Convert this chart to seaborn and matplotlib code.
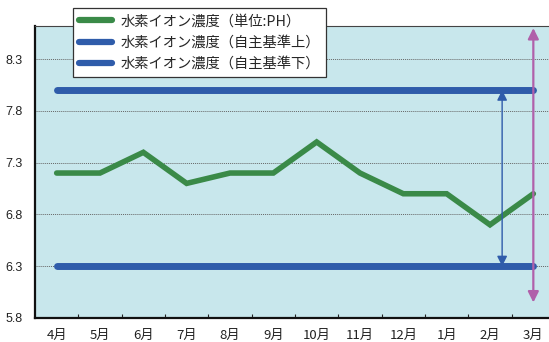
import matplotlib
matplotlib.use("Agg")
import matplotlib.pyplot as plt
from matplotlib.ticker import FixedLocator
import seaborn as sns
import pandas as pd
import numpy as np

# Monthly pH readings and the self-imposed upper / lower limits
months = ["4月", "5月", "6月", "7月", "8月", "9月", "10月", "11月", "12月", "1月", "2月", "3月"]
ph_values = [7.2, 7.2, 7.4, 7.1, 7.2, 7.2, 7.5, 7.2, 7.0, 7.0, 6.7, 7.0]
upper_limit = [8.0] * 12
lower_limit = [6.3] * 12
y_ticks = [5.8, 6.3, 6.8, 7.3, 7.8, 8.3]

labels = ["水素イオン濃度（単位:PH）", "水素イオン濃度（自主基準上）", "水素イオン濃度（自主基準下）"]

sns.set_theme(style="white")
plt.rcParams["font.family"] = ["Noto Sans CJK JP", "DejaVu Sans"]

GREEN = "#3a8a48"
BLUE = "#2f5caa"
PINK = "#b060aa"
BG = "#c8e7ec"

W, H = 549, 342
fig = plt.figure(figsize=(W / 100, H / 100), dpi=100)
left, right, top, bottom = 35, 555, 26, 318
ax = fig.add_axes([left / W, 1 - bottom / H, (right - left) / W, (bottom - top) / H])
ax.set_facecolor(BG)

df = pd.DataFrame({"x": np.arange(len(months)), "ph": ph_values,
                   "up": upper_limit, "low": lower_limit})

sns.lineplot(data=df, x="x", y="up", ax=ax, color=BLUE, linewidth=5,
             solid_capstyle="round", label=labels[1], zorder=3)
sns.lineplot(data=df, x="x", y="low", ax=ax, color=BLUE, linewidth=5,
             solid_capstyle="round", label=labels[2], zorder=3)
sns.lineplot(data=df, x="x", y="ph", ax=ax, color=GREEN, linewidth=4,
             solid_joinstyle="miter", label=labels[0], zorder=4)

ax.set_xlim(-0.5, len(months) - 0.5)
ax.set_ylim(5.8, 8.62)

# horizontal dotted grid at each y tick
for yv in y_ticks[1:]:
    ax.axhline(yv, color="#666666", linestyle=(0, (1, 1)), linewidth=0.7, zorder=1)

# range arrow between the two limits
ax.annotate("", xy=(10.28, upper_limit[0]), xytext=(10.28, lower_limit[0]),
            arrowprops=dict(arrowstyle="<|-|>", color=BLUE, lw=1.0,
                            mutation_scale=15, shrinkA=0, shrinkB=0), zorder=5)
# full-scale arrow on the last month
ax.annotate("", xy=(11, 8.6), xytext=(11, 5.95),
            arrowprops=dict(arrowstyle="<|-|>", color=PINK, lw=1.6,
                            mutation_scale=16, shrinkA=0, shrinkB=0), zorder=5)

ax.set_xticks(np.arange(len(months)))
ax.set_xticklabels(months, fontsize=9.5)
ax.xaxis.set_minor_locator(FixedLocator(np.arange(0.5, len(months) - 0.5, 1)))
ax.tick_params(axis="x", which="major", length=0, pad=8, colors="#222222")
ax.tick_params(axis="x", which="minor", direction="in", length=3, width=0.8,
               color="#222222", bottom=True)
ax.set_yticks(y_ticks)
ax.set_yticklabels([f"{v:.1f}" for v in y_ticks], fontsize=9,
                   family=["Liberation Sans", "DejaVu Sans"])
ax.tick_params(axis="y", length=0, pad=9, colors="#222222")
ax.set_xlabel("")
ax.set_ylabel("")

for s in ["left", "bottom"]:
    ax.spines[s].set_color("#111111")
    ax.spines[s].set_linewidth(1.6)
ax.spines["top"].set_color("#444444")
ax.spines["top"].set_linewidth(0.8)
ax.spines["right"].set_visible(False)

handles, lbls = ax.get_legend_handles_labels()
order = [lbls.index(l) for l in labels]
leg = ax.legend([handles[i] for i in order], [lbls[i] for i in order],
                loc="upper left", bbox_to_anchor=(73 / W, 1 - 8 / H),
                bbox_transform=fig.transFigure, fontsize=10.3, frameon=True,
                fancybox=False, edgecolor="#333333", framealpha=1,
                handlelength=2.3, borderpad=0.45, labelspacing=0.5,
                handletextpad=0.55, borderaxespad=0)
leg.get_frame().set_linewidth(0.9)
for line in leg.get_lines():
    line.set_linewidth(4.5)
    line.set_solid_capstyle("round")
leg.set_zorder(10)

fig.savefig("out.png", dpi=100)
